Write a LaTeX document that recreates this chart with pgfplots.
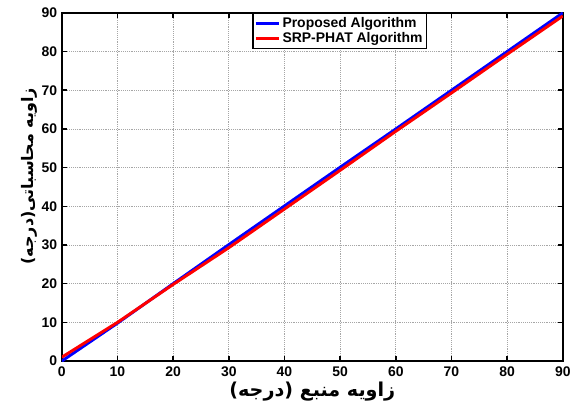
\documentclass[border=0pt]{standalone}
\usepackage{fontspec}
\setmainfont{Liberation Sans}
\newfontfamily\arabicfont[Script=Arabic]{DejaVu Sans}
\TeXXeTstate=1
\usepackage{pgfplots}
\pgfplotsset{compat=1.18}
\begin{document}
\begin{tikzpicture}
\begin{axis}[
    scale only axis,
    width=377pt, height=262pt,
    xmin=0, xmax=90, ymin=0, ymax=90,
    xtick={0,10,...,90}, ytick={0,10,...,90},
    grid=major,
    grid style={gray!70, densely dotted, line width=0.6pt},
    axis line style={black, line width=1.6pt},
    tick style={black, line width=1.2pt},
    tick align=inside,
    major tick length=4pt,
    /pgf/number format/assume math mode=true,
    tick label style={font=\bfseries\fontsize{10.5}{12}\selectfont},
    xticklabel style={yshift=-1pt},
    xlabel={\arabicfont\bfseries\Large\beginR زاویه منبع (درجه)\endR},
    ylabel={\arabicfont\bfseries\large\beginR زاویه محاسباتی(درجه)\endR},
    xlabel style={yshift=3pt},
    ylabel style={yshift=-4pt, xshift=8pt},
    legend style={at={(0.555,1)}, anchor=north, draw=black, line width=1.2pt,
        font=\bfseries\fontsize{10.5}{12}\selectfont, inner sep=1pt, row sep=-2pt},
    legend image post style={line width=2pt},
    legend cell align=left,
]
\addplot[blue, line width=2.2pt] coordinates {
(0,0) (10,9.8) (20,20) (30,30.1) (40,40.1) (50,50.1) (60,60) (70,70) (80,80) (90,90)};
\addlegendentry{Proposed Algorithm}
\addplot[red, line width=2.2pt] coordinates {
(0,1) (10,10) (20,19.8) (30,29.3) (40,39.3) (50,49.3) (60,59.4) (70,69.3) (80,79.3) (90,89.2)};
\addlegendentry{SRP-PHAT Algorithm}
\end{axis}
\path ([shift={(-46.5pt,-33pt)}]current axis.south west)
      rectangle ([shift={(7.5pt,9.7pt)}]current axis.north east);
\end{tikzpicture}
\end{document}
